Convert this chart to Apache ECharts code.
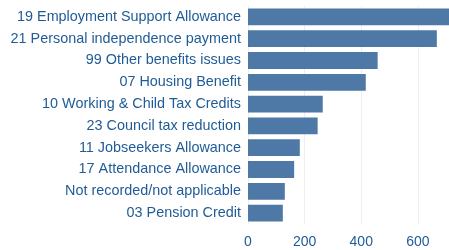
<!DOCTYPE html>
<html>
<head>
<meta charset="utf-8">
<script src="https://cdn.jsdelivr.net/npm/echarts@6/dist/echarts.min.js"></script>
<style>
html, body { margin: 0; padding: 0; background: #fff; }
#chart { width: 449px; height: 250px; }
</style>
</head>
<body>
<div id="chart"></div>
<script>
// 类别（从上到下）
var categories = [
	'19 Employment Support Allowance',
	'21 Personal independence payment',
	'99 Other benefits issues',
	'07 Housing Benefit',
	'10 Working & Child Tax Credits',
	'23 Council tax reduction',
	'11 Jobseekers Allowance',
	'17 Attendance Allowance',
	'Not recorded/not applicable',
	'03 Pension Credit'
];
var values = [710, 667, 458, 416, 264, 246, 183, 163, 130, 123];
var xTicks = [0, 200, 400, 600];

var chart = echarts.init(document.getElementById('chart'));
var textColor = '#1f5b97';

option = {
	animation: false,
	grid: {
		left: 248,
		right: 0,
		top: 6,
		bottom: 26
	},
	xAxis: {
		type: 'value',
		min: 0,
		max: 'dataMax',
		interval: 200,
		axisLine: { show: false },
		axisTick: { show: false },
		splitLine: { lineStyle: { color: '#eeeeee', width: 1 } },
		axisLabel: {
			color: textColor,
			fontSize: 14,
			fontFamily: 'Liberation Sans, Arial, sans-serif',
			margin: 11,
			showMaxLabel: false,
			formatter: function (v) {
				return xTicks.indexOf(v) >= 0 ? v : '';
			}
		}
	},
	yAxis: {
		type: 'category',
		inverse: true,
		data: categories,
		axisLine: { show: true, lineStyle: { color: '#eeeeee' } },
		axisTick: { show: false },
		axisLabel: {
			color: textColor,
			fontSize: 14.4,
			fontFamily: 'Liberation Sans, Arial, sans-serif',
			margin: 7
		}
	},
	series: [{
		type: 'bar',
		data: values,
		barCategoryGap: '23%',
		itemStyle: { color: '#4e79a7' }
	}]
};
chart.setOption(option);
</script>
</body>
</html>
